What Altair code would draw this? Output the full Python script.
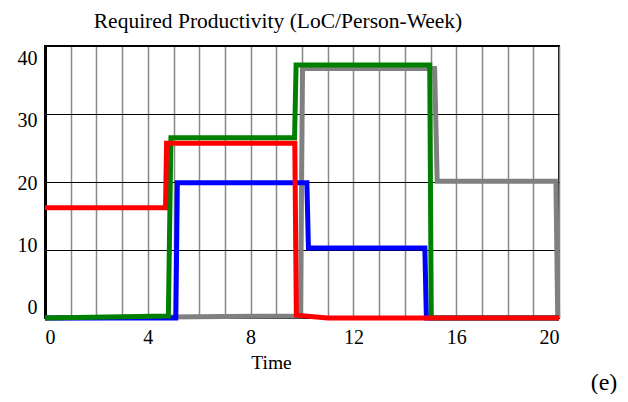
import altair as alt
import pandas as pd

# Series values (time in weeks, value in LoC/Person-Week)
red_t = [0, 4.69, 4.73, 9.72, 9.78, 11.0, 20]
red_v = [16.2, 16.2, 25.7, 25.7, 0.4, 0, 0]
green_t = [0, 4.80, 4.90, 9.71, 9.77, 14.97, 15.03, 20]
green_v = [0, 0.3, 26.5, 26.5, 37.2, 37.2, 0, 0]
blue_t = [0, 5.09, 5.15, 10.19, 10.25, 14.78, 14.84, 20]
blue_v = [0, 0, 19.9, 19.9, 10.3, 10.3, 0, 0]
gray_t = [0, 9.94, 10.02, 15.16, 15.26, 19.88, 19.95, 20]
gray_v = [0, 0.3, 36.7, 36.7, 20.1, 20.1, 0, 0]

series_names = ["gray", "blue", "green", "red"]
series_colors = ["#808080", "#0000FF", "#008000", "#FF0000"]
x_ticks = list(range(0, 21))
y_ticks = [0, 10, 20, 30, 40]

rows = []
for name, ts, vs in [("gray", gray_t, gray_v), ("blue", blue_t, blue_v),
                     ("green", green_t, green_v), ("red", red_t, red_v)]:
    for i, (t, v) in enumerate(zip(ts, vs)):
        rows.append({"series": name, "t": t, "v": v, "i": i})
df = pd.DataFrame(rows)

FONT = "Liberation Serif"

x_enc = alt.X(
    "t:Q",
    scale=alt.Scale(domain=[0, 20], nice=False),
    axis=alt.Axis(
        values=x_ticks,
        labelExpr="datum.value % 4 == 0 ? datum.label : ''",
        grid=True, gridColor="#888888", gridWidth=1.5,
        ticks=False, domain=False,
        labelFont=FONT, labelFontSize=20, labelColor="black", labelPadding=9,
        title="Time", titleFont=FONT, titleFontSize=19.5, titleFontWeight="normal",
        titleColor="black", titleX=226, titleY=44, titleAlign="center",
        titleBaseline="middle",
    ),
)
y_enc = alt.Y(
    "v:Q",
    scale=alt.Scale(domain=[0, 40], nice=False),
    axis=alt.Axis(
        values=y_ticks,
        grid=True, gridColor="black", gridWidth=1,
        ticks=False, domain=True, domainColor="black", domainWidth=3,
        labelFont=FONT, labelFontSize=20, labelColor="black", labelPadding=8,
        labelOffset=alt.ExprRef("-10.6 + 0.58*datum.value"),
        title=None,
    ),
)

layers = []
for name, col in zip(series_names, series_colors):
    layers.append(
        alt.Chart(df)
        .transform_filter(alt.datum.series == name)
        .mark_line(color=col, strokeWidth=5, strokeJoin="miter", clip=False)
        .encode(x=x_enc, y=y_enc, order="i:Q")
    )

label_e = alt.Chart(pd.DataFrame({"txt": ["(e)"]})).mark_text(
    font=FONT, fontSize=24, color="black", align="center", baseline="middle"
).encode(x=alt.value(559), y=alt.value(337), text="txt:N")

chart = (
    alt.layer(*layers, label_e)
    .properties(
        width=514, height=272,
        autosize=alt.AutoSizeParams(type="none"),
        padding={"left": 37, "top": 38, "right": 61, "bottom": 76},
        title=alt.TitleParams(
            "Required Productivity (LoC/Person-Week)",
            font=FONT, fontSize=21.5, fontWeight="normal", color="black",
            anchor="middle", dx=-24, offset=14,
        ),
    )
    .configure_view(stroke="black", strokeWidth=2)
)

chart.save("out.html", embed_options={"renderer": "svg", "actions": False})
